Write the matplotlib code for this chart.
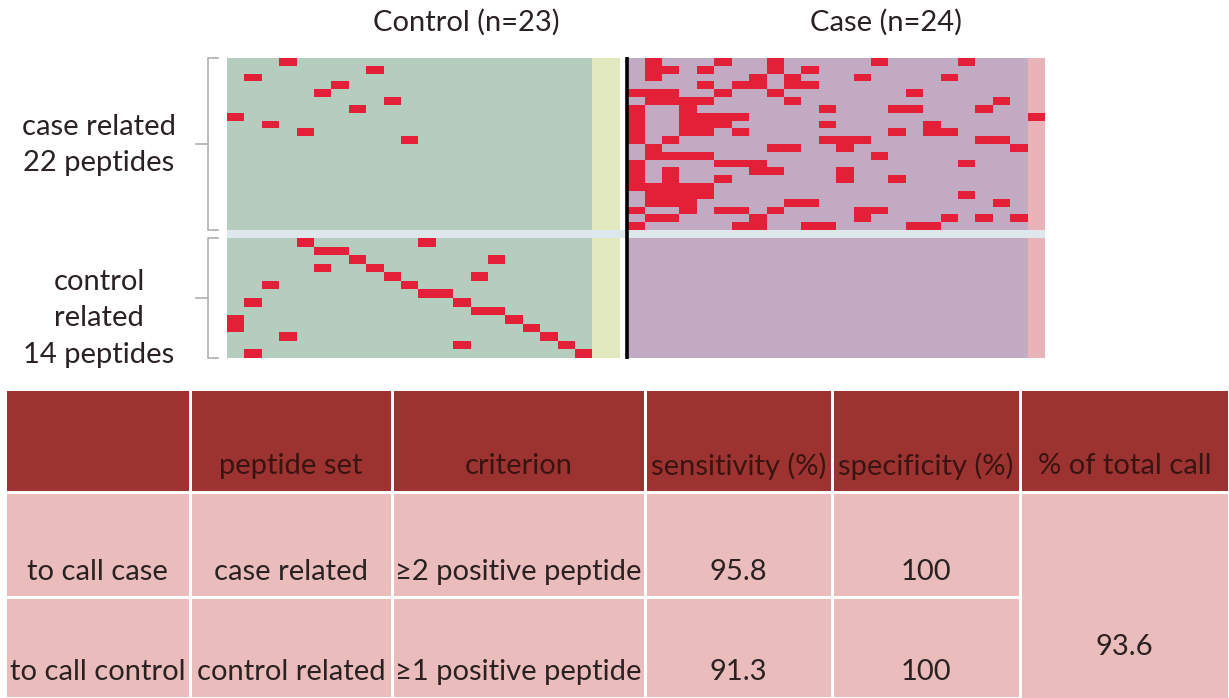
import numpy as np
import matplotlib
matplotlib.use("Agg")
import matplotlib.pyplot as plt
from matplotlib.colors import ListedColormap
from matplotlib.patches import Rectangle

plt.rcParams["font.family"] = ["Lato", "DejaVu Sans"]

# --- data -------------------------------------------------------------
n_control, n_case = 23, 24
group_titles = ["Control (n=23)", "Case (n=24)"]
block_labels = ["case related\n22 peptides", "control\nrelated\n14 peptides"]

# positive samples per peptide row (sample indices within each group)
case_pep_in_control = [[3], [8], [1], [6], [5], [9], [7], [0], [2], [4], [10],
                       [], [], [], [], [], [], [], [], [], [], []]
case_pep_in_case = [
    [1, 5, 8, 14, 19], [1, 2, 4, 8, 10], [1, 7, 9, 13, 18],
    [4, 6, 7, 9, 10], [0, 1, 2, 5, 8, 16], [1, 2, 3, 4, 9, 21],
    [0, 3, 11, 15, 16, 20], [0, 3, 4, 5, 6, 23], [0, 3, 4, 5, 11, 17],
    [0, 3, 4, 6, 15, 17, 18], [0, 2, 11, 12, 13, 20, 21], [1, 8, 9, 12, 22],
    [1, 2, 3, 4, 14], [0, 5, 6, 7, 19], [0, 2, 7, 8, 12],
    [0, 2, 5, 12, 15], [0, 1, 2, 3, 4], [1, 2, 3, 4, 19],
    [1, 2, 3, 9, 10, 21], [0, 3, 5, 6, 8, 13, 14], [1, 2, 7, 13, 18, 20, 22],
    [0, 6, 7, 10, 11, 16, 17],
]
ctrl_pep_in_control = [[4, 11], [5, 6], [7, 15], [5, 8], [9, 14], [2, 10],
                       [11, 12], [1, 13], [14, 15], [0, 16], [0, 17],
                       [3, 18], [13, 19], [1, 20]]
ctrl_pep_in_case = [[] for _ in range(14)]

# summary table
table_header = ["", "peptide set", "criterion", "sensitivity (%)",
                "specificity (%)", "% of total call"]
call_names = ["to call case", "to call control"]
peptide_sets = ["case related", "control related"]
criteria = ["\u22652 positive peptide", "\u22651 positive peptide"]
sensitivity = [95.8, 91.3]
specificity = [100, 100]
total_call = 93.6

# --- colours ----------------------------------------------------------
C_CTRL, C_STRIP, C_CASE, C_CASE_EDGE, C_POS = (
    "#b5cdbf", "#e2e9bf", "#c2abc2", "#e9b3b7", "#e41f38")
HEAD_BG, BODY_BG = "#9c3331", "#ebbcbc"
TXT = "#2a2222"

W, H = 1229, 698
fig = plt.figure(figsize=(W / 100, H / 100), dpi=100)


def px_axes(x0, y0, x1, y1, **kw):
    return fig.add_axes([x0 / W, 1 - y1 / H, (x1 - x0) / W, (y1 - y0) / H], **kw)


def build_block(in_ctrl, in_case):
    rows = len(in_ctrl)
    m = np.zeros((rows, n_control + n_case))
    m[:, n_control - 2:n_control] = 1          # pale strip at the end of control
    m[:, n_control:] = 2
    m[:, -1] = 3
    for r in range(rows):
        for c in in_ctrl[r]:
            m[r, c] = 4
        for c in in_case[r]:
            m[r, n_control + c] = 4
    return m


cmap = ListedColormap([C_CTRL, C_STRIP, C_CASE, C_CASE_EDGE, C_POS])
heat_x0, heat_x1 = 227, 1045
blocks = [((58, 230), case_pep_in_control, case_pep_in_case),
          ((238, 358), ctrl_pep_in_control, ctrl_pep_in_case)]
for (y0, y1), a, b in blocks:
    ax = px_axes(heat_x0, y0, heat_x1, y1)
    m = build_block(a, b)
    ax.imshow(m, cmap=cmap, vmin=-0.5, vmax=4.5, aspect="auto",
              interpolation="nearest",
              extent=(0, m.shape[1], m.shape[0], 0))
    ax.axvspan(n_control - 0.4, n_control, color="white", lw=0)
    ax.set_xlim(0, m.shape[1])
    ax.axis("off")

# overlay in pixel units for annotations and the table
ov = fig.add_axes([0, 0, 1, 1], zorder=5)
ov.set_xlim(0, W)
ov.set_ylim(H, 0)
ov.axis("off")
ov.patch.set_alpha(0)

# band between the two peptide blocks
ov.add_patch(Rectangle((heat_x0, 230), heat_x1 - heat_x0, 8, color="#dde7ec", lw=0))
# control / case divider
col_w = (heat_x1 - heat_x0) / (n_control + n_case)
x_div = heat_x0 + n_control * col_w
ov.plot([x_div, x_div], [57, 359], color="black", lw=2.6, solid_capstyle="butt")

fs = 21
ov.text(466, 22, group_titles[0], ha="center", va="center", fontsize=fs, color=TXT)
ov.text(886, 22, group_titles[1], ha="center", va="center", fontsize=fs, color=TXT)

# brackets and block labels
for (y0, y1), label, ymid_txt in [((58, 230), block_labels[0], 145),
                                  ((238, 358), block_labels[1], 318)]:
    ym = (y0 + y1) / 2
    ov.plot([218, 208, 208, 218], [y0, y0, y1, y1], color="#b0b0b0", lw=1.2)
    ov.plot([196, 208], [ym, ym], color="#b0b0b0", lw=1.2)
    ov.text(99, ymid_txt, label, ha="center", va="center", fontsize=fs,
            color=TXT, linespacing=1.5)

# summary table
col_edges = [5, 190, 392, 645, 832, 1020, 1229]
row_edges = [391, 492, 597, 698]
gap = 1.5
for j in range(6):
    xa, xb = col_edges[j] + gap, col_edges[j + 1] - gap
    ov.add_patch(Rectangle((xa, row_edges[0]), xb - xa, row_edges[1] - row_edges[0] - gap,
                           color=HEAD_BG, lw=0))
    ov.text((xa + xb) / 2, 466, table_header[j], ha="center", va="center",
            fontsize=fs, color="#3a1411")
    if j < 5:
        for i in range(2):
            ya, yb = row_edges[i + 1] + gap, row_edges[i + 2] - gap
            ov.add_patch(Rectangle((xa, ya), xb - xa, yb - ya, color=BODY_BG, lw=0))
    else:
        ya, yb = row_edges[1] + gap, row_edges[3]
        ov.add_patch(Rectangle((xa, ya), xb - xa, yb - ya, color=BODY_BG, lw=0))

for i in range(2):
    yt = [572, 672][i]
    cells = [call_names[i], peptide_sets[i], criteria[i],
             f"{sensitivity[i]:.1f}", f"{specificity[i]:g}"]
    for j, s in enumerate(cells):
        ov.text((col_edges[j] + col_edges[j + 1]) / 2, yt, s, ha="center",
                va="center", fontsize=fs, color=TXT)
ov.text((col_edges[5] + col_edges[6]) / 2, 647, f"{total_call:.1f}", ha="center",
        va="center", fontsize=fs, color=TXT)

fig.savefig("out.png", dpi=100, facecolor="white")
